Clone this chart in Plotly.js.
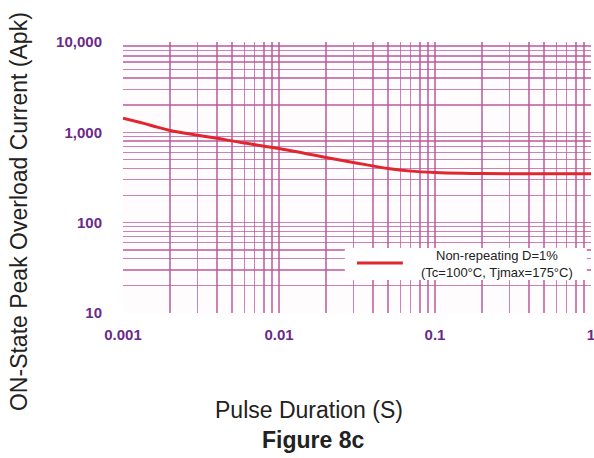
<!DOCTYPE html>
<html>
<head>
<meta charset="utf-8">
<script src="https://cdn.plot.ly/plotly-3.0.1.min.js"></script>
<style>html,body{margin:0;padding:0;background:#fff;}#chart{width:594px;height:458px;}</style>
</head>
<body>
<div id="chart"></div>
<script>
// Data
const pulseDuration = [0.001, 0.0015, 0.002, 0.003, 0.004, 0.006, 0.01, 0.015, 0.02, 0.03, 0.05, 0.07, 0.1, 0.15, 0.2, 0.3, 0.5, 0.7, 1];
const peakCurrent   = [1430, 1200, 1050, 930, 858, 760, 664, 580, 527, 464, 398, 372, 359, 352, 350, 348, 348, 348, 348];
const seriesName = "Non-repeating D=1%<br>(Tc=100°C, Tjmax=175°C)";

const xTickVals = [0.001, 0.01, 0.1, 1];
const xTickText = ["0.001", "0.01", "0.1", "1"];
const yTickVals = [10, 100, 1000, 10000];
const yTickText = ["10", "100", "1,000", "10,000"];

function minorVals(lo, hi) {
  const out = [];
  for (let d = lo; d < hi; d *= 10) for (let k = 2; k <= 9; k++) out.push(+(d * k).toPrecision(3));
  return out;
}
const xMinor = minorVals(0.001, 1);
const yMinor = minorVals(10, 10000);

const gridCol = "rgba(185,85,150,0.72)";
const tickFont = {family: "Liberation Sans, Arial, sans-serif", size: 15, color: "#6b2a8a", weight: "bold"};

const trace = {
  x: pulseDuration, y: peakCurrent, type: "scatter", mode: "lines",
  line: {color: "#e0262f", width: 3, shape: "spline"}, name: seriesName, showlegend: false
};

const layout = {
  width: 594, height: 458,
  margin: {l: 123, r: 3, t: 42, b: 145},
  paper_bgcolor: "#ffffff", plot_bgcolor: "#fffcfd",
  showlegend: false,
  xaxis: {
    type: "log", range: [-3, 0], tickvals: xTickVals, ticktext: xTickText,
    showgrid: true, gridcolor: gridCol, gridwidth: 1.5, zeroline: false,
    ticks: "outside", ticklen: 8, tickcolor: "rgba(0,0,0,0)",
    tickfont: tickFont, showline: false, ticklabeloverflow: "allow",
    minor: {tickvals: xMinor, showgrid: true, gridcolor: gridCol, gridwidth: 1.3, ticks: ""}
  },
  yaxis: {
    type: "log", range: [1, 4], tickvals: yTickVals, ticktext: yTickText,
    showgrid: true, gridcolor: gridCol, gridwidth: 1.5, zeroline: false,
    ticks: "outside", ticklen: 17, tickcolor: "rgba(0,0,0,0)",
    tickfont: tickFont, showline: false,
    minor: {tickvals: yMinor, showgrid: true, gridcolor: gridCol, gridwidth: 1.3, ticks: ""}
  },
  shapes: [
    {type: "rect", xref: "paper", yref: "paper", x0: 0.474, x1: 0.991, y0: 0.122, y1: 0.240,
     fillcolor: "#ffffff", line: {width: 0}, layer: "above"},
    {type: "line", xref: "paper", yref: "paper", x0: 0.5, x1: 0.598, y0: 0.1845, y1: 0.1845,
     line: {color: "#e0262f", width: 3}, layer: "above"}
  ],
  annotations: [
    {text: seriesName, xref: "paper", yref: "paper", x: 0.799, y: 0.181,
     xanchor: "center", yanchor: "middle", showarrow: false, align: "center",
     font: {family: "Liberation Sans, Arial, sans-serif", size: 13, color: "#222"}},
    {text: "ON-State Peak Overload Current (Apk)", xref: "paper", yref: "paper",
     x: -0.222, y: 0.373, xanchor: "center", yanchor: "middle", textangle: -90, showarrow: false,
     font: {family: "Liberation Sans, Arial, sans-serif", size: 23, color: "#222"}},
    {text: "Pulse Duration (S)", xref: "paper", yref: "paper",
     x: 0.398, y: -0.358, xanchor: "center", yanchor: "middle", showarrow: false,
     font: {family: "Liberation Sans, Arial, sans-serif", size: 23, color: "#222"}},
    {text: "<b>Figure 8c</b>", xref: "paper", yref: "paper",
     x: 0.405, y: -0.469, xanchor: "center", yanchor: "middle", showarrow: false,
     font: {family: "Liberation Sans, Arial, sans-serif", size: 23, color: "#222"}}
  ]
};

Plotly.newPlot("chart", [trace], layout, {staticPlot: true, displayModeBar: false});
</script>
</body>
</html>
